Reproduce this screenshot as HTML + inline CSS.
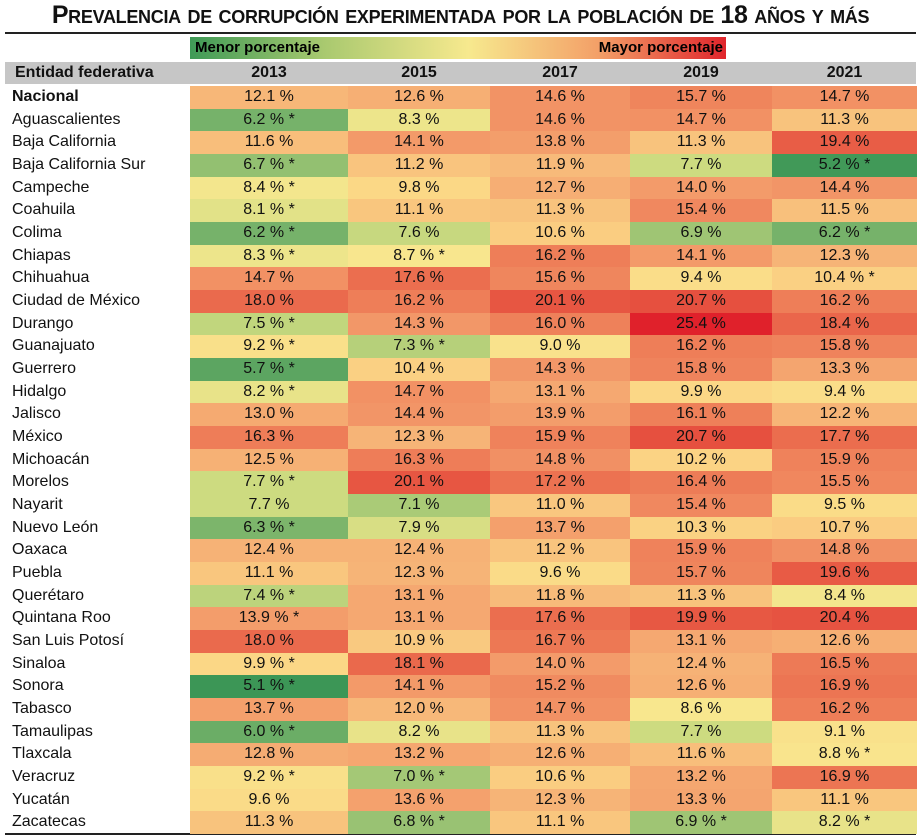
<!DOCTYPE html>
<html><head><meta charset="utf-8">
<style>
body{margin:0;width:921px;height:839px;background:#fff;overflow:hidden;position:relative;font-family:"Liberation Sans",sans-serif;}
.a{position:absolute;box-sizing:border-box;}
#title{left:0;width:921px;top:1px;text-align:center;font-weight:bold;font-size:25px;font-variant:small-caps;color:#111;white-space:nowrap;letter-spacing:-0.3px;}
.cell{position:absolute;height:22.7px;line-height:22.7px;font-size:16px;color:#111;text-align:center;white-space:nowrap;}
.name{text-align:left;padding-left:10px;}
</style></head><body>
<div class="a" id="title">Prevalencia de corrupción experimentada por la población de 18 años y más</div>
<div class="a" style="left:5px;top:32px;width:911px;height:2px;background:#222"></div>
<div class="a" style="left:190px;top:37px;width:536px;height:22px;background:linear-gradient(90deg,#3f9a57 0%,#a9c96f 25%,#f7e98e 52%,#f3a068 76%,#e0252c 100%);font-weight:bold;font-size:15px;line-height:22px;">
<span style="position:absolute;left:5px">Menor porcentaje</span>
<span style="position:absolute;right:3px">Mayor porcentaje</span></div>
<div class="a" style="left:5px;top:62px;width:911px;height:22px;background:#c6c6c6"></div>
<div class="a" style="left:5px;top:833px;width:911px;height:2px;background:#222"></div>
<div id="tbl"></div>
<script>
const years=["2013","2015","2017","2019","2021"];
const states=["Nacional","Aguascalientes","Baja California","Baja California Sur","Campeche","Coahuila","Colima","Chiapas","Chihuahua","Ciudad de México","Durango","Guanajuato","Guerrero","Hidalgo","Jalisco","México","Michoacán","Morelos","Nayarit","Nuevo León","Oaxaca","Puebla","Querétaro","Quintana Roo","San Luis Potosí","Sinaloa","Sonora","Tabasco","Tamaulipas","Tlaxcala","Veracruz","Yucatán","Zacatecas"];
const v2013=[12.1,6.2,11.6,6.7,8.4,8.1,6.2,8.3,14.7,18.0,7.5,9.2,5.7,8.2,13.0,16.3,12.5,7.7,7.7,6.3,12.4,11.1,7.4,13.9,18.0,9.9,5.1,13.7,6.0,12.8,9.2,9.6,11.3];
const s2013=[0,1,0,1,1,1,1,1,0,0,1,1,1,1,0,0,0,1,0,1,0,0,1,1,0,1,1,0,1,0,1,0,0];
const v2015=[12.6,8.3,14.1,11.2,9.8,11.1,7.6,8.7,17.6,16.2,14.3,7.3,10.4,14.7,14.4,12.3,16.3,20.1,7.1,7.9,12.4,12.3,13.1,13.1,10.9,18.1,14.1,12.0,8.2,13.2,7.0,13.6,6.8];
const s2015=[0,0,0,0,0,0,0,1,0,0,0,1,0,0,0,0,0,0,0,0,0,0,0,0,0,0,0,0,0,0,1,0,1];
const v2017=[14.6,14.6,13.8,11.9,12.7,11.3,10.6,16.2,15.6,20.1,16.0,9.0,14.3,13.1,13.9,15.9,14.8,17.2,11.0,13.7,11.2,9.6,11.8,17.6,16.7,14.0,15.2,14.7,11.3,12.6,10.6,12.3,11.1];
const s2017=states.map(()=>0);
const v2019=[15.7,14.7,11.3,7.7,14.0,15.4,6.9,14.1,9.4,20.7,25.4,16.2,15.8,9.9,16.1,20.7,10.2,16.4,15.4,10.3,15.9,15.7,11.3,19.9,13.1,12.4,12.6,8.6,7.7,11.6,13.2,13.3,6.9];
const s2019=[0,0,0,0,0,0,0,0,0,0,0,0,0,0,0,0,0,0,0,0,0,0,0,0,0,0,0,0,0,0,0,0,1];
const v2021=[14.7,11.3,19.4,5.2,14.4,11.5,6.2,12.3,10.4,16.2,18.4,15.8,13.3,9.4,12.2,17.7,15.9,15.5,9.5,10.7,14.8,19.6,8.4,20.4,12.6,16.5,16.9,16.2,9.1,8.8,16.9,11.1,8.2];
const s2021=[0,0,0,1,0,0,1,0,1,0,0,0,0,0,0,0,0,0,0,0,0,0,0,0,0,0,0,0,0,1,0,0,1];
const series=[[v2013,s2013],[v2015,s2015],[v2017,s2017],[v2019,s2019],[v2021,s2021]];
const stops=[[5.1,[60,150,86]],[6.2,[118,178,106]],[7.7,[205,219,128]],[8.5,[248,232,143]],[10,[251,214,133]],[12,[247,184,121]],[14.5,[242,148,102]],[17,[236,116,82]],[20.5,[230,82,64]],[25.4,[224,33,43]]];
function color(v){
  if(v<=stops[0][0])return 'rgb('+stops[0][1]+')';
  for(let i=1;i<stops.length;i++){if(v<=stops[i][0]){const a=stops[i-1],b=stops[i],t=(v-a[0])/(b[0]-a[0]);return 'rgb('+a[1].map((c,k)=>Math.round(c+(b[1][k]-c)*t)).join(',')+')';}}
  return 'rgb('+stops[stops.length-1][1]+')';
}
const colX=[190,348,490,630,772,917];
const top0=86,rh=22.67;
const tbl=document.getElementById('tbl');
function mk(cls,x,y,w,txt){const d=document.createElement('div');d.className=cls;d.style.left=x+'px';d.style.top=y+'px';d.style.width=w+'px';d.textContent=txt;tbl.appendChild(d);return d;}
let h=mk('cell name',5,62,185,'Entidad federativa');h.style.fontWeight='bold';h.style.height='22px';h.style.lineHeight='22px';


years.forEach((y,j)=>{const e=mk('cell',colX[j],62,colX[j+1]-colX[j],y);e.style.fontWeight='bold';e.style.height='22px';e.style.lineHeight='22px';

});
states.forEach((s,i)=>{
  const y=top0+i*rh;
  const n=mk('cell name',2,y,188,s);if(i===0)n.style.fontWeight='bold';
  
  
  series.forEach((ser,j)=>{
    const v=ser[0][i];
    const c=mk('cell',colX[j],y,colX[j+1]-colX[j],v.toFixed(1)+' %'+(ser[1][i]?' *':''));
    c.style.background=color(v);
    
    
  });
});
</script>
</body></html>
